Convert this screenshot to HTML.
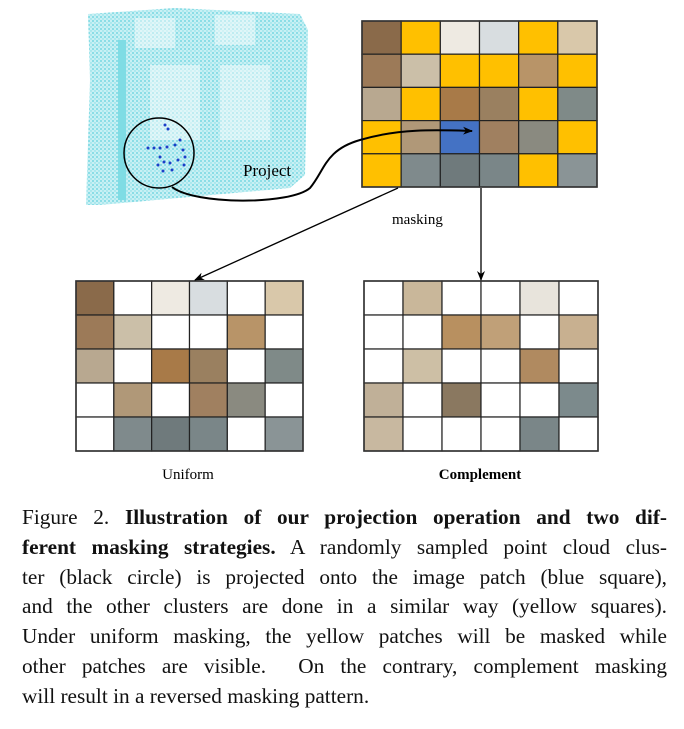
<!DOCTYPE html>
<html><head><meta charset="utf-8"><style>
body{margin:0;background:#fff;width:684px;height:729px;overflow:hidden;position:relative;font-family:"Liberation Serif",serif}
.cap{position:absolute;left:22px;top:503px;width:645px;font-size:21.3px;line-height:29.8px;color:#111}
.cap div{text-align:justify;text-align-last:justify;white-space:nowrap}
.cap div.l{text-align-last:left}
</style></head><body>
<svg width="684" height="729" style="position:absolute;left:0;top:0">
<defs>
<pattern id="dots" width="4" height="4" patternUnits="userSpaceOnUse">
<rect width="4" height="4" fill="#c8f0f4"/><circle cx="1" cy="1" r="0.9" fill="#5fd0dc"/><circle cx="3" cy="3" r="0.7" fill="#7fdce4"/>
</pattern>
<marker id="ah" markerWidth="10" markerHeight="8" refX="9" refY="4" orient="auto" markerUnits="userSpaceOnUse"><path d="M0,0 L10,4 L0,8 L3,4z" fill="#000"/></marker>
</defs>
<path d="M88,14 L175,8 L300,14 L308,30 L305,175 L290,188 L100,205 L86,205 L90,80 Z" fill="url(#dots)"/>
<g fill="#fff" opacity="0.45">
<rect x="150" y="65" width="50" height="75"/><rect x="220" y="65" width="50" height="75"/>
<rect x="135" y="18" width="40" height="30"/><rect x="215" y="15" width="40" height="30"/>
</g>
<rect x="118" y="40" width="8" height="160" fill="#7fdce4"/>
<circle cx="159" cy="153" r="35" fill="none" stroke="#000" stroke-width="1.5"/>
<g fill="#1a3fc8">
<circle cx="165" cy="125" r="1.5"/><circle cx="168" cy="129" r="1.5"/><circle cx="148" cy="148" r="1.5"/><circle cx="154" cy="148" r="1.5"/><circle cx="160" cy="148" r="1.5"/><circle cx="167" cy="147" r="1.5"/><circle cx="175" cy="145" r="1.5"/><circle cx="180" cy="140" r="1.5"/><circle cx="183" cy="150" r="1.5"/><circle cx="185" cy="157" r="1.5"/><circle cx="184" cy="165" r="1.5"/><circle cx="160" cy="157" r="1.5"/><circle cx="164" cy="162" r="1.5"/><circle cx="158" cy="165" r="1.5"/><circle cx="170" cy="163" r="1.5"/><circle cx="172" cy="170" r="1.5"/><circle cx="163" cy="171" r="1.5"/><circle cx="178" cy="160" r="1.5"/>
</g>
<text x="243" y="176" font-size="17" font-family="Liberation Serif,serif">Project</text>
<g id="g"></g>
<path d="M172,187 C195,205 290,205 310,188 C325,170 325,150 360,140 C400,128 440,130 472,131" fill="none" stroke="#000" stroke-width="2" marker-end="url(#ah)"/>
<path d="M398,188 L195,280" stroke="#000" stroke-width="1.3" fill="none" marker-end="url(#ah)"/>
<path d="M481,188 L481,280" stroke="#000" stroke-width="1.3" fill="none" marker-end="url(#ah)"/>
<text x="392" y="224" font-size="15">masking</text>
<text x="188" y="479" font-size="15" text-anchor="middle">Uniform</text>
<text x="480" y="479" font-size="15" font-weight="bold" text-anchor="middle">Complement</text>
</svg>
<div class="cap">
<div>Figure 2. <b>Illustration of our projection operation and two dif-</b></div>
<div><b>ferent masking strategies.</b> A randomly sampled point cloud clus-</div>
<div>ter (black circle) is projected onto the image patch (blue square),</div>
<div>and the other clusters are done in a similar way (yellow squares).</div>
<div>Under uniform masking, the yellow patches will be masked while</div>
<div>other patches are visible.&nbsp; On the contrary, complement masking</div>
<div class="l">will result in a reversed masking pattern.</div>
</div>
<script>
const C=[["#8a6a4a","#c9b79a","#eeeae2","#d8dde0","#e8e4dc","#d9c8aa"],
["#9c7a58","#cbbfa8","#b89060","#c0a078","#b89468","#c8b090"],
["#b8a890","#cdbfa5","#a87a48","#9a8060","#b08a60","#7f8a88"],
["#c0b098","#b09878","#8a7860","#a08060","#8a8a80","#7c8a8c"],
["#c8b8a0","#7f8a8c","#6f7a7c","#7a8688","#7a8688","#8a9496"]];
const M=[[0,1,0,0,1,0],[0,0,1,1,0,1],[0,1,0,0,1,0],[1,0,2,0,0,1],[1,0,0,0,1,0]];
let s="";
function grid(x0,y0,w,h,mode){const cw=w/6,rh=h/5;
for(let r=0;r<5;r++)for(let c=0;c<6;c++){let m=M[r][c],f=C[r][c];
if(mode==0){if(m==1)f="#ffc000";if(m==2)f="#4472c4";}
else if(mode==1){if(m)f="#fff";}
else{if(!m)f="#fff";}
s+=`<rect x="${x0+c*cw}" y="${y0+r*rh}" width="${cw}" height="${rh}" fill="${f}" stroke="#222" stroke-width="1.2"/>`;}
s+=`<rect x="${x0}" y="${y0}" width="${w}" height="${h}" fill="none" stroke="#333" stroke-width="1.6"/>`;}
grid(362,21,235,166,0);grid(76,281,227,170,1);grid(364,281,234,170,2);
document.getElementById("g").innerHTML=s;
</script>
</body></html>
